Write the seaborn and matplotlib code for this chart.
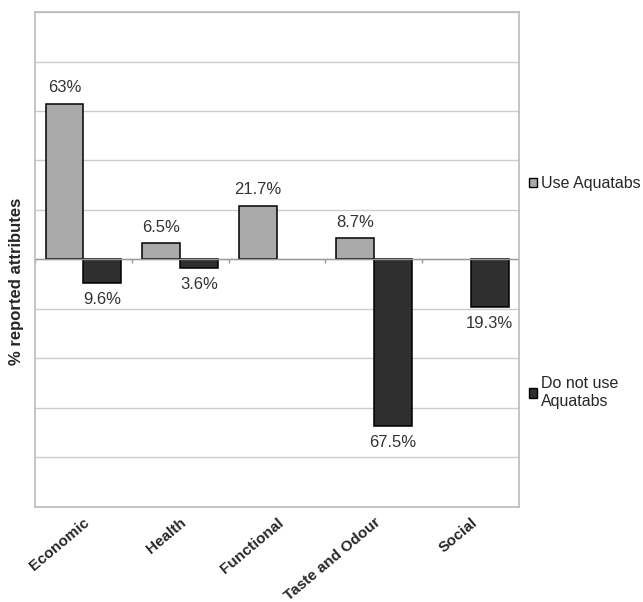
import numpy as np
import pandas as pd
import matplotlib
matplotlib.use("Agg")
import matplotlib.pyplot as plt
from matplotlib.patches import Patch
import matplotlib.transforms as mtransforms
import seaborn as sns

# Attribute categories and % reported (negative = Do not use Aquatabs)
categories = ["Economic", "Health", "Functional", "Taste and Odour", "Social"]
use_vals = [63.0, 6.5, 21.7, 8.7, 0.0]
not_use_vals = [-9.6, -3.6, 0.0, -67.5, -19.3]
use_labels = ["63%", "6.5%", "21.7%", "8.7%", ""]
not_use_labels = ["9.6%", "3.6%", "", "67.5%", "19.3%"]
groups = ["Use Aquatabs", "Do not use\nAquatabs"]

df = pd.DataFrame({
    "Attribute": categories * 2,
    "Group": [groups[0]] * len(categories) + [groups[1]] * len(categories),
    "Percent": use_vals + not_use_vals,
})

sns.set_style("white")
plt.rcParams["font.family"] = ["Liberation Sans", "DejaVu Sans"]

colors = {groups[0]: "#aaaaaa", groups[1]: "#2f2f2f"}

fig = plt.figure(figsize=(6.43, 6.02), dpi=100)
ax = fig.add_axes([0.0544, 0.158, 0.753, 0.822])

sns.barplot(data=df, x="Attribute", y="Percent", hue="Group", palette=colors,
            width=0.78, edgecolor="black", linewidth=1.1, saturation=1,
            legend=False, ax=ax)

# hide empty bars so they don't show as a line on the zero axis
for p in ax.patches:
    if p.get_height() == 0:
        p.set_visible(False)

ax.set_ylim(-100, 100)
ax.set_xlim(-0.5, len(categories) - 0.5)
ax.set_yticks(range(-100, 101, 20))
ax.set_yticklabels([])
ax.tick_params(axis="both", length=0)
ax.yaxis.grid(True, color="#cccccc", linewidth=1)
ax.set_axisbelow(True)
ax.axhline(0, color="#999999", linewidth=1, zorder=1)
# little category ticks on the zero line
ax.vlines(np.arange(len(categories) + 1) - 0.5, -1.6, 0, color="#999999", linewidth=1, zorder=1)
for s in ax.spines.values():
    s.set_color("#bbbbbb")
    s.set_linewidth(1.2)

# value labels
ax.bar_label(ax.containers[0], labels=use_labels, padding=6, fontsize=12, color="#333333")
ax.bar_label(ax.containers[1], labels=not_use_labels, padding=6, fontsize=12, color="#333333")

ax.set_xlabel("")
ax.set_ylabel("% reported attributes", fontsize=12, fontweight="bold")
ax.yaxis.set_label_coords(-0.022, 0.455)
shift = mtransforms.ScaledTranslation(-5 / 100, 0, fig.dpi_scale_trans)
for lbl in ax.get_xticklabels():
    lbl.set_rotation(40)
    lbl.set_ha("right")
    lbl.set_rotation_mode("anchor")
    lbl.set_fontsize(11)
    lbl.set_fontweight("bold")
    lbl.set_transform(lbl.get_transform() + shift)
ax.tick_params(axis="x", pad=6)

# legend entries spaced like the original
leg_kw = dict(loc="center left", frameon=False, fontsize=11.5, handlelength=0.55,
              handleheight=0.55, handletextpad=0.2, borderpad=0, borderaxespad=0)
fig.legend(handles=[Patch(facecolor=colors[groups[0]], edgecolor="black", label=groups[0])],
           bbox_to_anchor=(0.822, 0.695), **leg_kw)
fig.legend(handles=[Patch(facecolor=colors[groups[1]], edgecolor="black", label=groups[1])],
           bbox_to_anchor=(0.822, 0.348), **leg_kw)

fig.savefig("out.png", dpi=100)
